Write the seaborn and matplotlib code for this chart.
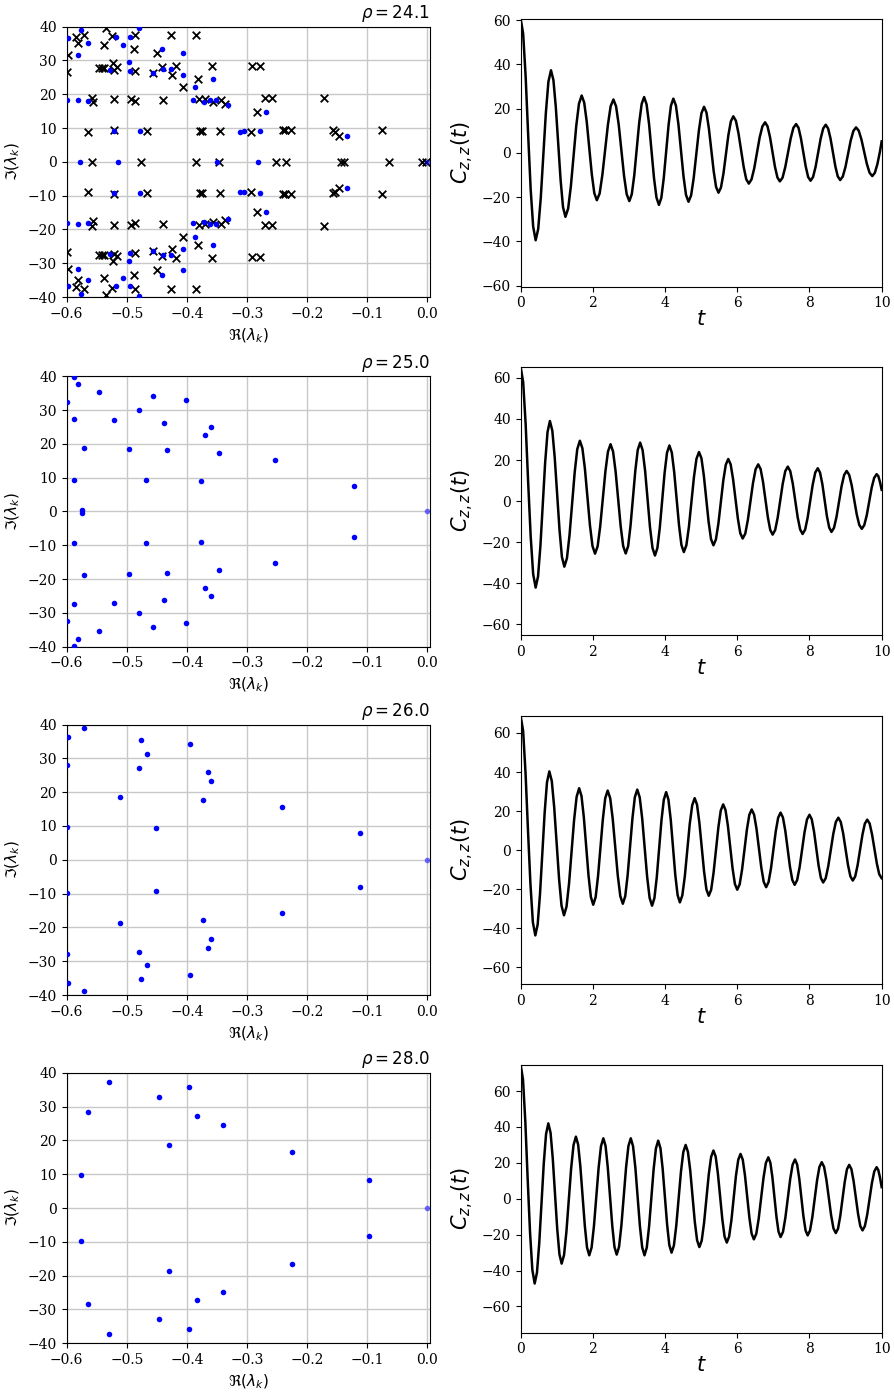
import numpy as np
import matplotlib
matplotlib.use("Agg")
import matplotlib.pyplot as plt
import seaborn as sns

plt.rcParams["font.family"] = ["DejaVu Serif", "DejaVu Sans"]
plt.rcParams["mathtext.fontset"] = "dejavusans"

# ---------------- eigenvalue data (upper half-plane; conjugates mirrored) ----------------
rho_labels = ["24.1", "25.0", "26.0", "28.0"]

# rho = 24.1 : blue dots
re_blue_241 = [-0.597, -0.576, -0.582, -0.564, -0.600, -0.582, -0.564, -0.528, -0.522, -0.518,
               -0.506, -0.494, -0.496, -0.494, -0.479, -0.478, -0.457, -0.442, -0.440, -0.427,
               -0.407, -0.407, -0.386, -0.390, -0.371, -0.361, -0.352, -0.357, -0.331, -0.312,
               -0.304, -0.278, -0.268, -0.134]
im_blue_241 = [36.6, 39.0, 31.65, 35.1, 18.2, 18.4, 18.0, 27.2, 9.25, 36.8,
               34.5, 36.8, 29.4, 26.9, 39.6, 9.25, 26.4, 33.5, 27.5, 27.5,
               32.1, 25.7, 22.1, 18.2, 17.7, 18.4, 18.4, 24.6, 16.9, 8.9,
               9.05, 9.15, 14.85, 7.6]
re_blue_real_241 = [-0.578, -0.514, -0.349, -0.281]
# rho = 24.1 : crosses
re_x_241 = [-0.598, -0.600, -0.584, -0.581, -0.571, -0.564, -0.558, -0.556, -0.546, -0.542,
            -0.538, -0.534, -0.538, -0.525, -0.523, -0.522, -0.516, -0.522, -0.522, -0.493,
            -0.486, -0.486, -0.488, -0.487, -0.467, -0.449, -0.456, -0.440, -0.441, -0.427,
            -0.425, -0.418, -0.407, -0.384, -0.382, -0.379, -0.378, -0.374, -0.369, -0.358,
            -0.357, -0.345, -0.343, -0.337, -0.292, -0.278, -0.293, -0.283, -0.269, -0.258,
            -0.240, -0.236, -0.227, -0.171, -0.157, -0.154, -0.147, -0.075]
im_x_241 = [31.65, 26.7, 37.05, 35.1, 37.5, 8.8, 18.9, 17.6, 27.7, 27.7,
            27.7, 39.5, 34.5, 37.2, 29.2, 27.2, 27.9, 18.6, 9.55, 18.6,
            18.1, 37.5, 33.5, 26.9, 9.25, 32.1, 26.4, 18.4, 28.0, 37.5,
            25.8, 28.4, 22.1, 37.5, 24.6, 18.7, 9.25, 9.25, 18.5, 28.4,
            17.8, 9.25, 18.4, 17.1, 28.3, 28.3, 8.9, 14.85, 18.8, 18.8,
            9.45, 9.45, 9.45, 18.9, 9.35, 8.95, 7.6, 9.55]
re_x_real_241 = [-0.558, -0.477, -0.384, -0.347, -0.251, -0.235, -0.143, -0.139, -0.064, -0.008, -0.002]

# rho = 25.0
re_blue_250 = [-0.588, -0.581, -0.599, -0.546, -0.457, -0.401, -0.479, -0.587, -0.521, -0.438,
               -0.359, -0.369, -0.571, -0.496, -0.433, -0.347, -0.253, -0.587, -0.468, -0.376,
               -0.122, -0.574]
im_blue_250 = [39.9, 37.6, 32.4, 35.3, 34.3, 33.0, 30.1, 27.5, 27.0, 26.3,
               25.1, 22.7, 18.7, 18.4, 18.1, 17.3, 15.1, 9.2, 9.3, 9.0,
               7.65, 0.4]

# rho = 26.0
re_blue_260 = [-0.571, -0.597, -0.600, -0.477, -0.395, -0.467, -0.479, -0.364, -0.359, -0.512,
               -0.373, -0.242, -0.600, -0.452, -0.112]
im_blue_260 = [38.9, 36.4, 27.9, 35.4, 34.1, 31.2, 27.2, 26.1, 23.4, 18.6,
               17.8, 15.7, 9.8, 9.35, 7.97]

# rho = 28.0
re_blue_280 = [-0.530, -0.397, -0.446, -0.564, -0.383, -0.339, -0.430, -0.225, -0.577, -0.0972]
im_blue_280 = [37.2, 35.7, 32.8, 28.4, 27.3, 24.7, 18.7, 16.5, 9.74, 8.37]

# zero eigenvalue
re_origin = [0.0]
im_origin = [0.0]

# ---------------- autocorrelation data C_{z,z}(t) ----------------
t_241 = [0.0,
         0.069, 0.138, 0.208, 0.277, 0.346, 0.415,
         0.486, 0.557, 0.628, 0.698, 0.769, 0.84,
         0.907, 0.973, 1.04, 1.107, 1.173, 1.24,
         1.315, 1.39, 1.465, 1.54, 1.615, 1.69,
         1.76, 1.83, 1.90, 1.97, 2.04, 2.11,
         2.187, 2.263, 2.34, 2.417, 2.493, 2.57,
         2.643, 2.717, 2.79, 2.863, 2.937, 3.01,
         3.078, 3.147, 3.215, 3.283, 3.352, 3.42,
         3.488, 3.557, 3.625, 3.693, 3.762, 3.83,
         3.897, 3.963, 4.03, 4.097, 4.163, 4.23,
         4.30, 4.37, 4.44, 4.51, 4.58, 4.65,
         4.722, 4.793, 4.865, 4.937, 5.008, 5.08,
         5.147, 5.213, 5.28, 5.347, 5.413, 5.48,
         5.548, 5.617, 5.685, 5.753, 5.822, 5.89,
         5.962, 6.033, 6.105, 6.177, 6.248, 6.32,
         6.395, 6.47, 6.545, 6.62, 6.695, 6.77,
         6.838, 6.907, 6.975, 7.043, 7.112, 7.18,
         7.255, 7.33, 7.405, 7.48, 7.555, 7.63,
         7.697, 7.763, 7.83, 7.897, 7.963, 8.03,
         8.10, 8.17, 8.24, 8.31, 8.38, 8.45,
         8.517, 8.583, 8.65, 8.717, 8.783, 8.85,
         8.923, 8.997, 9.07, 9.143, 9.217, 9.29,
         9.365, 9.44, 9.515, 9.59, 9.665, 9.74,
         9.812, 9.883, 9.955, 10.0]
c_241 = [60.5,
         53.8, 34.5, 8.0, -16.5, -33.3, -39.5,
         -34.4, -20.3, -1.1, 18.1, 32.2, 37.3,
         32.9, 20.8, 4.2, -12.4, -24.5, -28.9,
         -25.2, -15.2, -1.5, 12.2, 22.2, 25.9,
         22.7, 14.1, 2.3, -9.6, -18.2, -21.4,
         -18.4, -10.0, 1.4, 12.7, 21.1, 24.1,
         21.0, 12.6, 1.2, -10.3, -18.7, -21.8,
         -18.7, -10.1, 1.7, 13.5, 22.1, 25.2,
         21.9, 13.0, 0.9, -11.3, -20.2, -23.5,
         -20.3, -11.5, 0.5, 12.5, 21.3, 24.5,
         21.4, 12.9, 1.2, -10.5, -19.0, -22.1,
         -19.2, -11.4, -0.7, 10.1, 17.9, 20.8,
         18.2, 11.1, 1.4, -8.3, -15.4, -18.0,
         -15.7, -9.4, -0.8, 7.9, 14.2, 16.5,
         14.5, 8.9, 1.3, -6.3, -11.9, -13.9,
         -12.0, -7.0, 0.0, 6.9, 11.9, 13.8,
         12.0, 7.1, 0.5, -6.2, -11.1, -12.9,
         -11.2, -6.4, 0.1, 6.5, 11.3, 13.0,
         11.3, 6.6, 0.2, -6.2, -10.9, -12.6,
         -10.9, -6.3, 0.1, 6.4, 11.0, 12.7,
         11.0, 6.5, 0.2, -6.1, -10.6, -12.3,
         -10.7, -6.4, -0.4, 5.6, 9.9, 11.5,
         10.0, 6.0, 0.5, -5.0, -9.0, -10.5,
         -9.0, -5.0, 0.8, 5.2]

t_250 = [0.0,
         0.069, 0.138, 0.208, 0.277, 0.346, 0.415,
         0.481, 0.547, 0.613, 0.678, 0.744, 0.81,
         0.877, 0.943, 1.01, 1.077, 1.143, 1.21,
         1.282, 1.353, 1.425, 1.497, 1.568, 1.64,
         1.71, 1.78, 1.85, 1.92, 1.99, 2.06,
         2.132, 2.203, 2.275, 2.347, 2.418, 2.49,
         2.56, 2.63, 2.70, 2.77, 2.84, 2.91,
         2.977, 3.043, 3.11, 3.177, 3.243, 3.31,
         3.378, 3.447, 3.515, 3.583, 3.652, 3.72,
         3.787, 3.853, 3.92, 3.987, 4.053, 4.12,
         4.187, 4.253, 4.32, 4.387, 4.453, 4.52,
         4.59, 4.66, 4.73, 4.80, 4.87, 4.94,
         5.007, 5.073, 5.14, 5.207, 5.273, 5.34,
         5.408, 5.477, 5.545, 5.613, 5.682, 5.75,
         5.817, 5.883, 5.95, 6.017, 6.083, 6.15,
         6.222, 6.293, 6.365, 6.437, 6.508, 6.58,
         6.647, 6.713, 6.78, 6.847, 6.913, 6.98,
         7.05, 7.12, 7.19, 7.26, 7.33, 7.40,
         7.468, 7.537, 7.605, 7.673, 7.742, 7.81,
         7.88, 7.95, 8.02, 8.09, 8.16, 8.23,
         8.293, 8.357, 8.42, 8.483, 8.547, 8.61,
         8.68, 8.75, 8.82, 8.89, 8.96, 9.03,
         9.10, 9.17, 9.24, 9.31, 9.38, 9.45,
         9.518, 9.587, 9.655, 9.723, 9.792, 9.86,
         9.907, 9.953, 10.0]
c_250 = [65.2,
         58.0, 37.5, 9.0, -17.0, -35.5, -42.1,
         -36.7, -21.8, -1.6, 18.7, 33.6, 39.0,
         34.3, 21.3, 3.6, -14.2, -27.2, -31.9,
         -27.8, -16.6, -1.3, 14.1, 25.3, 29.4,
         25.7, 15.7, 1.9, -11.9, -21.9, -25.6,
         -22.0, -12.3, 1.1, 14.4, 24.1, 27.7,
         24.1, 14.4, 1.1, -12.2, -21.9, -25.5,
         -21.9, -12.0, 1.5, 15.0, 24.9, 28.5,
         24.8, 14.8, 1.0, -12.8, -22.8, -26.5,
         -22.9, -13.1, 0.3, 13.7, 23.5, 27.1,
         23.6, 14.1, 1.2, -11.8, -21.3, -24.8,
         -21.5, -12.6, -0.5, 11.7, 20.6, 23.9,
         20.9, 12.6, 1.2, -10.2, -18.5, -21.5,
         -18.7, -11.0, -0.5, 10.0, 17.7, 20.5,
         17.9, 10.8, 1.2, -8.5, -15.6, -18.2,
         -15.8, -9.2, -0.2, 8.9, 15.5, 17.9,
         15.6, 9.4, 0.8, -7.8, -14.0, -16.3,
         -14.1, -8.0, 0.3, 8.5, 14.6, 16.8,
         14.6, 8.6, 0.4, -7.8, -13.8, -16.0,
         -13.9, -8.0, 0.0, 8.0, 13.9, 16.0,
         13.9, 8.3, 0.5, -7.3, -12.9, -15.0,
         -13.0, -7.6, -0.2, 7.3, 12.7, 14.7,
         12.8, 7.7, 0.6, -6.5, -11.6, -13.5,
         -11.7, -6.9, -0.2, 6.5, 11.3, 13.1,
         12.2, 9.3, 5.5]

t_260 = [0.0,
         0.068, 0.135, 0.203, 0.271, 0.338, 0.406,
         0.471, 0.535, 0.60, 0.665, 0.729, 0.794,
         0.862, 0.929, 0.997, 1.065, 1.132, 1.20,
         1.27, 1.34, 1.41, 1.48, 1.55, 1.62,
         1.685, 1.75, 1.815, 1.88, 1.945, 2.01,
         2.077, 2.143, 2.21, 2.277, 2.343, 2.41,
         2.48, 2.55, 2.62, 2.69, 2.76, 2.83,
         2.897, 2.963, 3.03, 3.097, 3.163, 3.23,
         3.298, 3.367, 3.435, 3.503, 3.572, 3.64,
         3.705, 3.77, 3.835, 3.90, 3.965, 4.03,
         4.093, 4.157, 4.22, 4.283, 4.347, 4.41,
         4.478, 4.547, 4.615, 4.683, 4.752, 4.82,
         4.885, 4.95, 5.015, 5.08, 5.145, 5.21,
         5.277, 5.343, 5.41, 5.477, 5.543, 5.61,
         5.675, 5.74, 5.805, 5.87, 5.935, 6.00,
         6.067, 6.133, 6.20, 6.267, 6.333, 6.40,
         6.467, 6.533, 6.60, 6.667, 6.733, 6.80,
         6.867, 6.933, 7.00, 7.067, 7.133, 7.20,
         7.265, 7.33, 7.395, 7.46, 7.525, 7.59,
         7.658, 7.727, 7.795, 7.863, 7.932, 8.0,
         8.063, 8.127, 8.19, 8.253, 8.317, 8.38,
         8.45, 8.52, 8.59, 8.66, 8.73, 8.80,
         8.867, 8.933, 9.00, 9.067, 9.133, 9.20,
         9.267, 9.333, 9.40, 9.467, 9.533, 9.60,
         9.667, 9.733, 9.80, 9.867, 9.933, 10.0]
c_260 = [68.6,
         61.1, 39.5, 10.0, -17.5, -37.0, -43.7,
         -38.1, -22.7, -1.7, 19.3, 34.7, 40.3,
         35.4, 21.9, 3.5, -15.0, -28.5, -33.4,
         -29.0, -17.1, -0.9, 15.4, 27.3, 31.7,
         27.7, 16.8, 1.9, -13.1, -24.0, -28.0,
         -24.1, -13.4, 1.3, 15.9, 26.6, 30.5,
         26.6, 16.0, 1.5, -13.0, -23.6, -27.5,
         -23.6, -12.9, 1.8, 16.4, 27.1, 31.0,
         27.0, 16.1, 1.3, -13.6, -24.5, -28.5,
         -24.6, -14.0, 0.6, 15.2, 25.8, 29.7,
         25.9, 15.6, 1.5, -12.7, -23.0, -26.8,
         -23.2, -13.5, -0.1, 13.3, 23.0, 26.6,
         23.3, 14.1, 1.6, -10.9, -20.1, -23.4,
         -20.3, -11.7, 0.0, 11.7, 20.3, 23.4,
         20.5, 12.5, 1.6, -9.4, -17.4, -20.3,
         -17.5, -10.0, 0.3, 10.5, 18.0, 20.8,
         18.1, 10.9, 0.9, -9.1, -16.3, -19.0,
         -16.4, -9.5, 0.1, 9.7, 16.6, 19.2,
         16.7, 10.0, 0.7, -8.6, -15.3, -17.8,
         -15.4, -8.8, 0.2, 9.1, 15.7, 18.1,
         15.8, 9.4, 0.8, -7.9, -14.3, -16.6,
         -14.4, -8.3, 0.0, 8.3, 14.4, 16.6,
         14.4, 8.6, 0.5, -7.6, -13.4, -15.6,
         -13.5, -7.8, 0.0, 7.8, 13.5, 15.6,
         13.6, 8.1, 0.6, -6.9, -12.4, -14.4]

t_280 = [0.0,
         0.065, 0.129, 0.194, 0.259, 0.323, 0.388,
         0.451, 0.514, 0.577, 0.64, 0.703, 0.766,
         0.828, 0.889, 0.951, 1.012, 1.074, 1.135,
         1.201, 1.267, 1.333, 1.398, 1.464, 1.53,
         1.592, 1.653, 1.715, 1.777, 1.838, 1.90,
         1.965, 2.03, 2.095, 2.16, 2.225, 2.29,
         2.352, 2.413, 2.475, 2.537, 2.598, 2.66,
         2.725, 2.79, 2.855, 2.92, 2.985, 3.05,
         3.113, 3.177, 3.24, 3.303, 3.367, 3.43,
         3.493, 3.557, 3.62, 3.683, 3.747, 3.81,
         3.872, 3.933, 3.995, 4.057, 4.118, 4.18,
         4.245, 4.31, 4.375, 4.44, 4.505, 4.57,
         4.633, 4.697, 4.76, 4.823, 4.887, 4.95,
         5.015, 5.08, 5.145, 5.21, 5.275, 5.34,
         5.402, 5.463, 5.525, 5.587, 5.648, 5.71,
         5.773, 5.837, 5.90, 5.963, 6.027, 6.09,
         6.152, 6.213, 6.275, 6.337, 6.398, 6.46,
         6.527, 6.593, 6.66, 6.727, 6.793, 6.86,
         6.917, 6.973, 7.03, 7.087, 7.143, 7.20,
         7.267, 7.333, 7.40, 7.467, 7.533, 7.60,
         7.658, 7.717, 7.775, 7.833, 7.892, 7.95,
         8.015, 8.08, 8.145, 8.21, 8.275, 8.34,
         8.405, 8.47, 8.535, 8.60, 8.665, 8.73,
         8.792, 8.853, 8.915, 8.977, 9.038, 9.10,
         9.162, 9.223, 9.285, 9.347, 9.408, 9.47,
         9.535, 9.60, 9.665, 9.73, 9.795, 9.86,
         9.907, 9.953, 10.0]
c_280 = [74.6,
         66.4, 43.0, 11.0, -18.5, -39.5, -47.2,
         -41.2, -24.9, -2.6, 19.7, 36.0, 42.0,
         36.8, 22.5, 3.0, -16.6, -30.9, -36.1,
         -31.4, -18.4, -0.8, 16.9, 29.9, 34.6,
         30.2, 18.1, 1.6, -15.0, -27.1, -31.5,
         -27.1, -15.2, 1.1, 17.4, 29.3, 33.7,
         29.4, 17.5, 1.3, -14.9, -26.8, -31.1,
         -26.8, -14.9, 1.3, 17.5, 29.4, 33.7,
         29.3, 17.4, 1.1, -15.2, -27.1, -31.5,
         -27.2, -15.5, 0.5, 16.4, 28.1, 32.4,
         28.2, 16.8, 1.2, -14.4, -25.8, -30.0,
         -26.0, -15.0, 0.0, 15.0, 26.0, 30.0,
         26.2, 15.8, 1.6, -12.7, -23.1, -26.9,
         -23.3, -13.5, 0.0, 13.5, 23.3, 26.9,
         23.5, 14.1, 1.3, -11.6, -21.0, -24.4,
         -21.1, -12.1, 0.3, 12.7, 21.7, 25.0,
         21.8, 13.1, 1.2, -10.7, -19.4, -22.6,
         -19.5, -11.2, 0.3, 11.7, 20.0, 23.1,
         20.1, 12.0, 0.9, -10.2, -18.3, -21.3,
         -18.4, -10.5, 0.3, 11.1, 19.0, 21.9,
         19.1, 11.3, 0.8, -9.8, -17.6, -20.4,
         -17.7, -10.2, 0.0, 10.2, 17.7, 20.4,
         17.8, 10.5, 0.7, -9.2, -16.5, -19.1,
         -16.6, -9.6, -0.1, 9.4, 16.4, 18.9,
         16.5, 9.8, 0.7, -8.5, -15.2, -17.6,
         -15.2, -8.8, 0.0, 8.8, 15.2, 17.6,
         16.0, 11.9, 6.5]

# ---------------- figure ----------------
fig = plt.figure(figsize=(8.94, 13.92), dpi=100)

left_bottoms = [0.7866, 0.5354, 0.2852, 0.0350]
right_bottoms = [0.7940, 0.5438, 0.2931, 0.0426]

blue_sets = [(re_blue_241, im_blue_241), (re_blue_250, im_blue_250),
             (re_blue_260, im_blue_260), (re_blue_280, im_blue_280)]
corr_sets = [(t_241, c_241), (t_250, c_250), (t_260, c_260), (t_280, c_280)]


def conj(re, im):
    re = np.asarray(re, float)
    im = np.asarray(im, float)
    return np.concatenate([re, re]), np.concatenate([im, -im])


for i in range(4):
    # ----- eigenvalue panel -----
    ax = fig.add_axes([0.0746, left_bottoms[i], 0.4064, 0.1943])
    ax.set_axisbelow(True)
    ax.grid(True, color="#c8c8c8", linewidth=1.0)

    if i == 0:
        xr, xi = conj(re_x_241, im_x_241)
        xr = np.concatenate([xr, re_x_real_241])
        xi = np.concatenate([xi, np.zeros(len(re_x_real_241))])
        sns.scatterplot(x=xr, y=xi, ax=ax, marker="x", color="black", s=30,
                        linewidth=1.3, zorder=3)

    br, bi = conj(*blue_sets[i])
    if i == 0:
        br = np.concatenate([br, re_blue_real_241])
        bi = np.concatenate([bi, np.zeros(len(re_blue_real_241))])
    sns.scatterplot(x=br, y=bi, ax=ax, color="blue", s=16, linewidth=0, zorder=4)
    sns.scatterplot(x=re_origin, y=im_origin, ax=ax, color="blue", s=16,
                    linewidth=0, alpha=0.55, zorder=4)

    ax.set_xlim(-0.6, 0.005)
    ax.set_ylim(-40, 40)
    ax.set_xticks([-0.6, -0.5, -0.4, -0.3, -0.2, -0.1, 0.0])
    ax.set_yticks([-40, -30, -20, -10, 0, 10, 20, 30, 40])
    ax.tick_params(labelsize=10)
    ax.set_xlabel(r"$\Re(\lambda_k)$", fontsize=11)
    ax.set_ylabel(r"$\Im(\lambda_k)$", fontsize=11)
    ax.set_title(r"$\rho = %s$" % rho_labels[i], loc="right", fontsize=12)

    # ----- autocorrelation panel -----
    ax2 = fig.add_axes([0.5824, right_bottoms[i], 0.4038, 0.1924])
    t, c = corr_sets[i]
    sns.lineplot(x=t, y=c, ax=ax2, color="black", linewidth=1.8)
    cmax = np.max(np.abs(c))
    ax2.set_xlim(0, 10)
    ax2.set_ylim(-cmax, cmax)
    ax2.set_xticks([0, 2, 4, 6, 8, 10])
    ax2.set_yticks([-60, -40, -20, 0, 20, 40, 60])
    ax2.tick_params(labelsize=10)
    ax2.set_xlabel(r"$t$", fontsize=15, labelpad=0)
    ax2.set_ylabel(r"$C_{z,z}(t)$", fontsize=15)

fig.savefig("out.png", dpi=100)
